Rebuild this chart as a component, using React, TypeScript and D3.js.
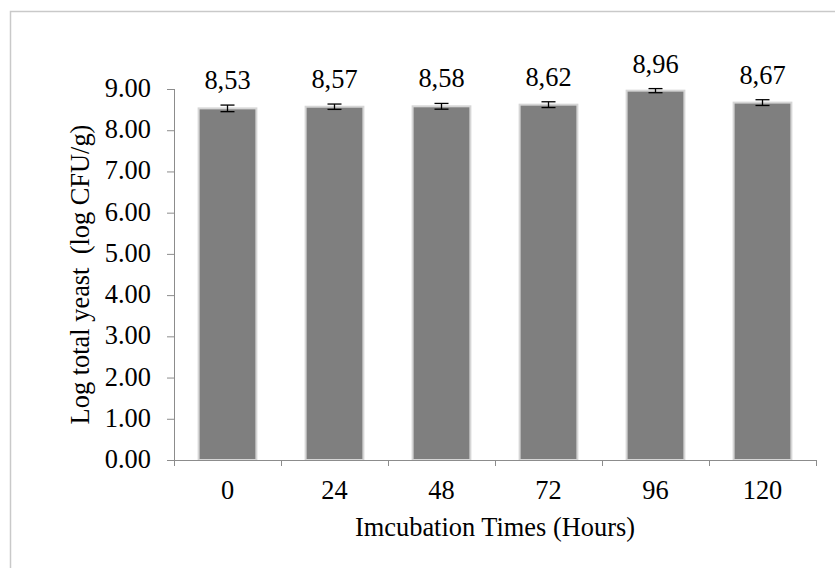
import React from "react";
import * as d3 from "d3";

const categories = ["0", "24", "48", "72", "96", "120"];
const values = [8.53, 8.57, 8.58, 8.62, 8.96, 8.67];
const errors = [0.08, 0.065, 0.07, 0.07, 0.05, 0.07];
const valueLabels = ["8,53", "8,57", "8,58", "8,62", "8,96", "8,67"];
const yTicks = [0, 1, 2, 3, 4, 5, 6, 7, 8, 9];
const yTitle = "Log total yeast  (log CFU/g)";
const xTitle = "Imcubation Times (Hours)";

const W = 835;
const H = 568;
const FONT = "'Liberation Serif', 'Times New Roman', serif";
const FS = 26.4;

export default function App() {
  const left = 174;
  const right = 816;
  const top = 89;
  const bottom = 460;
  const x = d3.scaleBand<string>().domain(categories).range([left, right]).paddingInner(0.46).paddingOuter(0.23);
  const xb = d3.scaleBand<string>().domain(categories).range([left, right]);
  const y = d3.scaleLinear().domain([0, 9]).range([bottom, top]);
  const axisColor = "#8c8c8c";
  const cap = 7;

  return (
    <svg width={W} height={H} style={{ position: "absolute", left: 0, top: 0 }} fontFamily={FONT}>
      <rect x={0} y={0} width={W} height={H} fill="#fff" />
      <rect x={10.5} y={11.5} width={W + 20} height={H + 20} fill="none" stroke="#c9c9c9" strokeWidth={1.5} />
      {categories.map((c, i) => {
        const bx = x(c)!;
        const bw = x.bandwidth();
        const yt = y(values[i]);
        return (
          <rect key={c} x={bx} y={yt} width={bw} height={bottom - yt} fill="#7f7f7f" stroke="#d6d6d6" strokeWidth={2} />
        );
      })}
      {categories.map((c, i) => {
        const cx = x(c)! + x.bandwidth() / 2;
        const y1 = y(values[i] + errors[i]);
        const y0 = y(values[i] - errors[i]);
        return (
          <g key={c} stroke="#000" strokeWidth={1.3}>
            <line x1={cx} x2={cx} y1={y1} y2={y0} />
            <line x1={cx - cap} x2={cx + cap} y1={y1} y2={y1} />
            <line x1={cx - cap} x2={cx + cap} y1={y0} y2={y0} />
          </g>
        );
      })}
      {categories.map((c, i) => {
        const cx = x(c)! + x.bandwidth() / 2;
        const y1 = y(values[i] + errors[i]);
        return (
          <text key={c} x={cx} y={y1 - 16} textAnchor="middle" fontSize={FS} fill="#000">
            {valueLabels[i]}
          </text>
        );
      })}
      <line x1={left + 0.5} x2={left + 0.5} y1={top} y2={bottom} stroke={axisColor} />
      {yTicks.map((t) => (
        <g key={t}>
          <line x1={left - 7} x2={left} y1={y(t) + 0.5} y2={y(t) + 0.5} stroke={axisColor} />
          <text x={left - 23} y={y(t) + 8} textAnchor="end" fontSize={FS} fill="#000">
            {t.toFixed(2)}
          </text>
        </g>
      ))}
      <line x1={left} x2={right} y1={bottom + 0.5} y2={bottom + 0.5} stroke={axisColor} />
      {[...categories.map((c) => xb(c)!), right].map((px, i) => (
        <line key={i} x1={px + 0.5} x2={px + 0.5} y1={bottom} y2={bottom + 6} stroke={axisColor} />
      ))}
      {categories.map((c) => (
        <text key={c} x={xb(c)! + xb.bandwidth() / 2} y={499} textAnchor="middle" fontSize={FS} fill="#000">
          {c}
        </text>
      ))}
      <text x={(left + right) / 2} y={536} textAnchor="middle" fontSize={FS} fill="#000" style={{ whiteSpace: "pre" }}>
        {xTitle}
      </text>
      <text
        transform={`translate(89, ${(top + bottom) / 2}) rotate(-90)`}
        textAnchor="middle"
        fontSize={FS}
        fill="#000"
        style={{ whiteSpace: "pre" }}
      >
        {yTitle}
      </text>
    </svg>
  );
}
